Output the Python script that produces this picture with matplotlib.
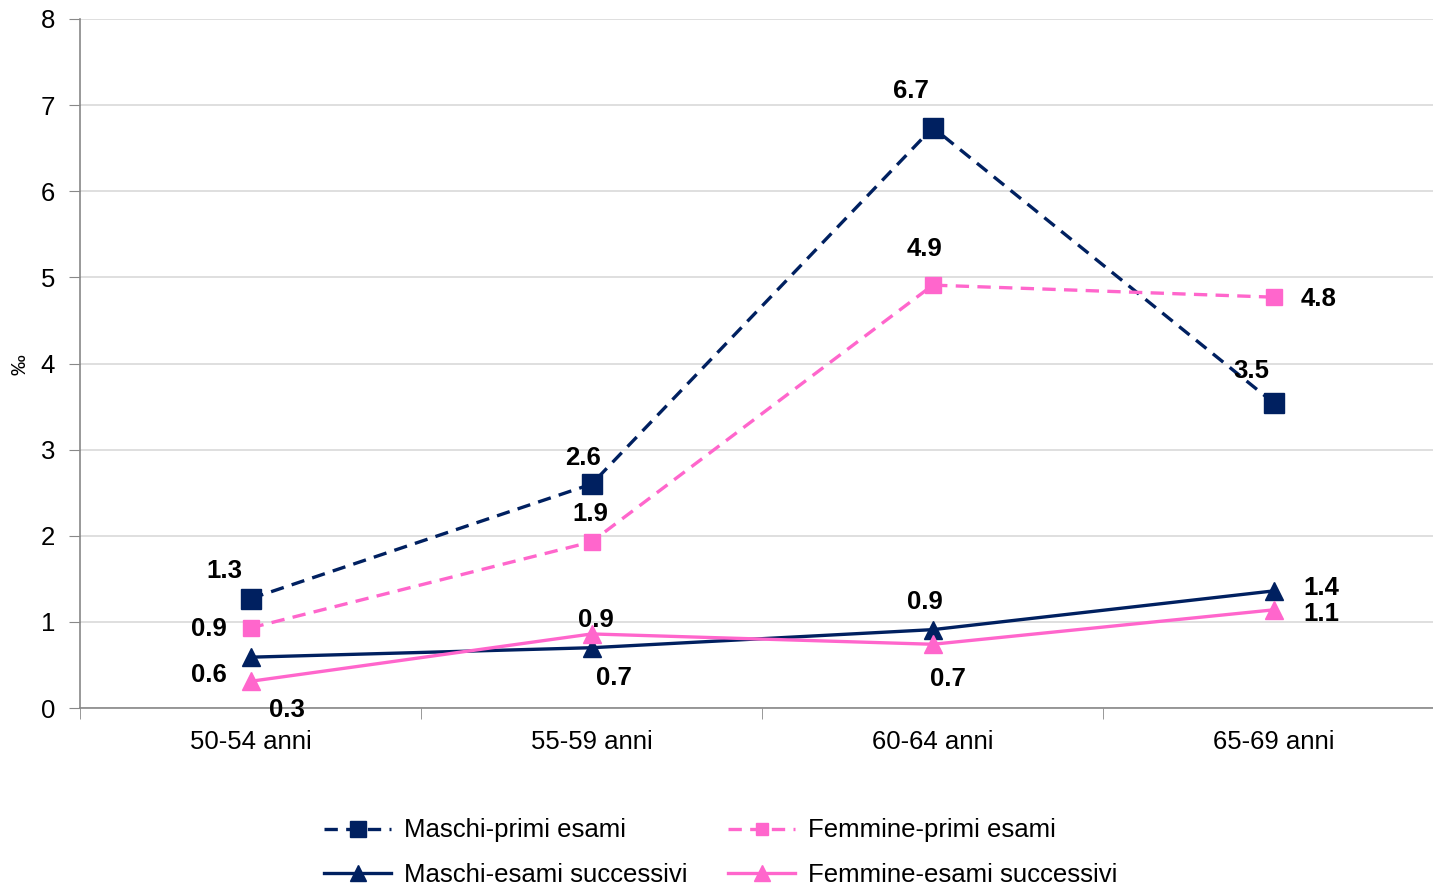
import matplotlib.pyplot as plt
from matplotlib.lines import Line2D

categories = ["50-54 anni", "55-59 anni", "60-64 anni", "65-69 anni"]
maschi_primi = [1.27, 2.60, 6.74, 3.54]
femmine_primi = [0.93, 1.93, 4.91, 4.77]
maschi_succ = [0.59, 0.70, 0.91, 1.36]
femmine_succ = [0.31, 0.86, 0.74, 1.14]

NAVY = "#002060"
PINK = "#FF66CC"

# label offsets in points (dx, dy) for each series
off_mp = [(-19, 20), (-6, 19), (-16, 26), (-16, 23)]
off_fp = [(-30, -1), (-1, 20), (-6, 26), (32, -1)]
off_ms = [(-30, -13), (16, -22), (-6, 20), (34, 2)]
off_fs = [(26, -21), (3, 10), (11, -25), (34, -3)]

plt.rcParams["font.family"] = ["Liberation Sans", "DejaVu Sans"]

fig = plt.figure(figsize=(14.33, 8.86), dpi=100)
ax = fig.add_axes([80 / 1433, 178 / 886, 1364.5 / 1433, 689 / 886])

x = list(range(len(categories)))
series = [
    (maschi_primi, NAVY, (0, (4, 2.5)), "s", 14, "Maschi-primi esami", off_mp),
    (femmine_primi, PINK, (0, (4, 2.5)), "s", 11, "Femmine-primi esami", off_fp),
    (maschi_succ, NAVY, "-", "^", 13, "Maschi-esami successivi", off_ms),
    (femmine_succ, PINK, "-", "^", 13, "Femmine-esami successivi", off_fs),
]

handles = []
for vals, col, ls, mk, ms, name, offs in series:
    ax.plot(x, vals, color=col, linestyle=ls, linewidth=2.4, marker=mk,
            markersize=ms, zorder=3, clip_on=False)
    handles.append(Line2D([0], [0], color=col, linestyle=ls, linewidth=2.4,
                          marker=mk, markersize=ms - 2, label=name))
    for xi, v, (dx, dy) in zip(x, vals, offs):
        ax.annotate(f"{v:.1f}", (xi, v), xytext=(dx, dy),
                    textcoords="offset points", ha="center", va="center",
                    fontsize=18.5, fontweight="bold", zorder=4)

ax.set_xlim(-0.5, 3.5)
ax.set_ylim(0, 8)
ax.set_yticks(range(0, 9))
ax.set_xticks(x)
ax.set_xticklabels(categories)
ax.set_xticks([-0.5, 0.5, 1.5, 2.5], minor=True)
ax.tick_params(axis="x", which="major", length=0, pad=16, labelsize=18.5)
ax.tick_params(axis="x", which="minor", length=8, color="#888888")
ax.tick_params(axis="y", length=8, color="#888888", labelsize=18.5, pad=10)
ax.grid(axis="y", color="#d9d9d9", linewidth=1.2)
ax.set_axisbelow(True)
for side in ["top", "right"]:
    ax.spines[side].set_visible(False)
for side in ["left", "bottom"]:
    ax.spines[side].set_color("#888888")
    ax.spines[side].set_linewidth(1.2)

fig.text(20 / 1433, 1 - 365 / 886, "‰", rotation=90, fontsize=15,
         ha="center", va="center")

# legend filled by rows: primi esami on top, esami successivi below
order = [0, 2, 1, 3]
fig.legend(handles=[handles[i] for i in order], loc="center",
           bbox_to_anchor=(0.503, 0.0375), ncol=2, frameon=False,
           fontsize=18.5, handlelength=2.6, columnspacing=1.6,
           labelspacing=0.8, handletextpad=0.5)

fig.savefig("out.png", dpi=100)
